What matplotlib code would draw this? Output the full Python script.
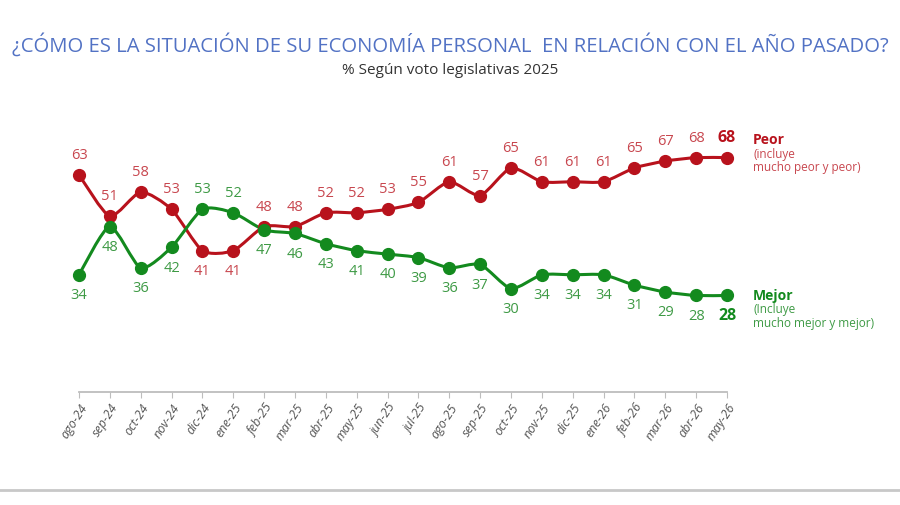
import matplotlib.pyplot as plt
from matplotlib.path import Path
import matplotlib.patches as patches
from matplotlib.lines import Line2D

# Data
months = ['ago-24', 'sep-24', 'oct-24', 'nov-24', 'dic-24', 'ene-25', 'feb-25',
          'mar-25', 'abr-25', 'may-25', 'jun-25', 'jul-25', 'ago-25', 'sep-25',
          'oct-25', 'nov-25', 'dic-25', 'ene-26', 'feb-26', 'mar-26', 'abr-26', 'may-26']
peor = [63, 51, 58, 53, 41, 41, 48, 48, 52, 52, 53, 55, 61, 57, 65, 61, 61, 61, 65, 67, 68, 68]
mejor = [34, 48, 36, 42, 53, 52, 47, 46, 43, 41, 40, 39, 36, 37, 30, 34, 34, 34, 31, 29, 28, 28]

RED = '#B8121C'
RED_LBL = '#C8474F'
GREEN = '#138A1E'
GREEN_LBL = '#3E9A45'

plt.rcParams['font.family'] = ['Open Sans', 'DejaVu Sans']


def smooth_path(xs, ys, k=9.0):
    # smoothed line: cubic Bezier segments with soft Catmull-Rom tangents
    verts = [(xs[0], ys[0])]
    codes = [Path.MOVETO]
    n = len(xs)
    for i in range(n - 1):
        x0, y0 = (xs[i - 1], ys[i - 1]) if i > 0 else (xs[i], ys[i])
        x1, y1 = xs[i], ys[i]
        x2, y2 = xs[i + 1], ys[i + 1]
        x3, y3 = (xs[i + 2], ys[i + 2]) if i + 2 < n else (x2, y2)
        c1 = (x1 + (x2 - x0) / k, y1 + (y2 - y0) / k)
        c2 = (x2 - (x3 - x1) / k, y2 - (y3 - y1) / k)
        verts += [c1, c2, (x2, y2)]
        codes += [Path.CURVE4] * 3
    return Path(verts, codes)


fig = plt.figure(figsize=(9, 5.05), dpi=100)
ax = fig.add_axes([79 / 900, 0.2238, 648 / 900, 0.546])

x = list(range(len(months)))

for vals, col in [(peor, RED), (mejor, GREEN)]:
    ax.add_patch(patches.PathPatch(smooth_path(x, vals), facecolor='none',
                                   edgecolor=col, lw=2.2, clip_on=False, zorder=2))
    ax.plot(x, vals, 'o', color=col, markersize=8.5, clip_on=False, zorder=3)

# value labels: upper series above, lower series below
last = len(months) - 1
for i in x:
    for vals, other, col, dark in [(peor, mejor, RED_LBL, RED), (mejor, peor, GREEN_LBL, GREEN)]:
        above = vals[i] >= other[i]
        off = 14 if above else -15
        bold = i == last
        ax.annotate(str(vals[i]), (i, vals[i]), xytext=(0, off), textcoords='offset points',
                    ha='center', va='center', fontsize=11.5 if bold else 10.5,
                    color=dark if bold else col,
                    fontweight='bold' if bold else 'normal')

ax.set_xlim(0, last)
ax.set_ylim(0, 80)
ax.set_yticks([])
for s in ['top', 'right', 'left']:
    ax.spines[s].set_visible(False)
ax.spines['bottom'].set_color('#BDBDBD')
ax.spines['bottom'].set_linewidth(1.3)
ax.set_xticks(x)
ax.set_xticklabels(months, rotation=57, ha='right', va='top', rotation_mode='anchor',
                   fontsize=9, color='#555555', style='italic')
ax.tick_params(axis='x', length=4, color='#BDBDBD', pad=3)

# series names on the right
lx = last + 0.85
ax.text(lx, 73.0, 'Peor', color=RED, fontsize=10, fontweight='bold', va='center')
ax.text(lx, 69.0, '(incluye', color=RED_LBL, fontsize=8.5, va='center')
ax.text(lx, 65.2, 'mucho peor y peor)', color=RED_LBL, fontsize=8.5, va='center')
ax.text(lx, 27.8, 'Mejor', color=GREEN, fontsize=10, fontweight='bold', va='center')
ax.text(lx, 23.8, '(Incluye', color=GREEN_LBL, fontsize=8.5, va='center')
ax.text(lx, 20.0, 'mucho mejor y mejor)', color=GREEN_LBL, fontsize=8.5, va='center')

fig.text(0.5, 1 - 45 / 505, '¿CÓMO ES LA SITUACIÓN DE SU ECONOMÍA PERSONAL  EN RELACIÓN CON EL AÑO PASADO?',
         ha='center', va='center', fontsize=14.6, color='#5272C4')
fig.text(0.5, 1 - 70 / 505, '% Según voto legislativas 2025', ha='center', va='center',
         fontsize=11, color='#333333')

fig.add_artist(Line2D([0, 1], [1 - 490 / 505] * 2, color='#C8C8C8', lw=2))

fig.savefig('out.png', dpi=100, facecolor='white')
